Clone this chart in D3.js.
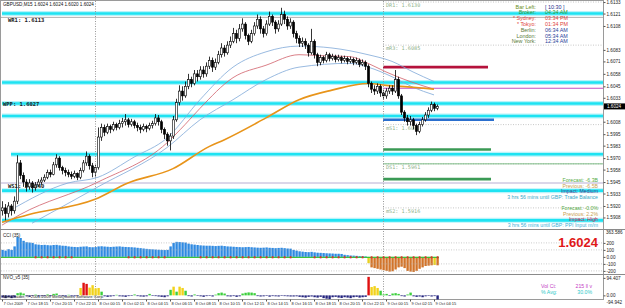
<!DOCTYPE html>
<html>
<head>
<meta charset="utf-8">
<script src="https://cdn.jsdelivr.net/npm/d3@7"></script>
<style>
	body{margin:0;background:#fff;}
	svg{display:block;font-family:"Liberation Sans",Arial,sans-serif;}
</style>
</head>
<body>
<svg id="chart" width="625" height="308"></svg>
<script>
'use strict';

// GBPUSD M15, first bar 7 Oct 2009 16:15
var timeLabels = ['7 Oct 2009','7 Oct 18:15','7 Oct 20:15','7 Oct 22:15','8 Oct 00:15','8 Oct 02:15','8 Oct 04:15','8 Oct 06:15','8 Oct 08:15','8 Oct 10:15','8 Oct 12:15','8 Oct 14:15','8 Oct 16:15','8 Oct 18:15','8 Oct 20:15','8 Oct 22:15','9 Oct 00:15','9 Oct 02:15','9 Oct 04:15'];
var priceTicks = [1.6133,1.6121,1.6108,1.6083,1.6071,1.6058,1.6045,1.6033,1.6008,1.5995,1.5983,1.5970,1.5958,1.5945,1.5933,1.5920,1.5908];
var daySeparators = [31, 127];

var closes = [
	1.5918,1.5912,1.5920,1.5915,1.5925,1.5965,1.5952,1.5945,1.5940,1.5944,
	1.5939,1.5942,1.5945,1.5947,1.5950,1.5955,1.5953,1.5963,1.5970,1.5960,
	1.5957,1.5955,1.5953,1.5951,1.5954,1.5950,1.5957,1.5965,1.5972,1.5962,
	1.5955,1.5960,1.5992,1.6002,1.5997,1.6003,1.6000,1.6005,1.6002,1.6006,
	1.6008,1.6010,1.6005,1.6008,1.6004,1.6002,1.6000,1.6003,1.6001,1.6004,
	1.6006,1.6012,1.6008,1.6000,1.5995,1.5988,1.5993,1.6010,1.6028,1.6040,
	1.6035,1.6045,1.6052,1.6048,1.6058,1.6055,1.6062,1.6058,1.6066,1.6072,
	1.6065,1.6070,1.6078,1.6085,1.6080,1.6088,1.6092,1.6100,1.6095,1.6105,
	1.6110,1.6098,1.6092,1.6100,1.6108,1.6115,1.6105,1.6100,1.6110,1.6118,
	1.6112,1.6105,1.6110,1.6120,1.6115,1.6108,1.6112,1.6100,1.6095,1.6090,
	1.6092,1.6088,1.6080,1.6092,1.6078,1.6070,1.6075,1.6072,1.6078,1.6074,
	1.6076,1.6073,1.6075,1.6072,1.6074,1.6071,1.6073,1.6070,1.6072,1.6068,
	1.6070,1.6066,1.6048,1.6042,1.6040,1.6045,1.6038,1.6035,1.6040,1.6043,
	1.6040,1.6052,1.6035,1.6018,1.6012,1.6008,1.6010,1.6004,1.5998,1.6005,
	1.6010,1.6015,1.6020,1.6026,1.6022,1.6024
];
var highs = [
	1.5925,1.5922,1.5924,1.5922,1.5930,1.5973,1.5968,1.5955,1.5948,1.5948,
	1.5946,1.5945,1.5948,1.5950,1.5953,1.5958,1.5958,1.5966,1.5974,1.5972,
	1.5962,1.5960,1.5958,1.5956,1.5957,1.5955,1.5960,1.5968,1.5977,1.5974,
	1.5965,1.5963,1.6002,1.6006,1.6005,1.6006,1.6005,1.6008,1.6007,1.6010,
	1.6012,1.6016,1.6012,1.6011,1.6010,1.6007,1.6005,1.6006,1.6005,1.6007,
	1.6009,1.6016,1.6015,1.6010,1.6002,1.5997,1.5996,1.6014,1.6032,1.6046,
	1.6045,1.6050,1.6058,1.6055,1.6062,1.6062,1.6066,1.6066,1.6070,1.6076,
	1.6075,1.6074,1.6082,1.6090,1.6088,1.6092,1.6097,1.6106,1.6104,1.6110,
	1.6116,1.6112,1.6100,1.6104,1.6112,1.6120,1.6118,1.6108,1.6114,1.6123,
	1.6120,1.6114,1.6114,1.6127,1.6124,1.6118,1.6116,1.6114,1.6103,1.6098,
	1.6096,1.6095,1.6090,1.6105,1.6094,1.6080,1.6078,1.6077,1.6081,1.6080,
	1.6079,1.6078,1.6078,1.6077,1.6077,1.6076,1.6076,1.6075,1.6075,1.6074,
	1.6073,1.6072,1.6068,1.6050,1.6046,1.6048,1.6047,1.6041,1.6043,1.6046,
	1.6046,1.6062,1.6055,1.6037,1.6020,1.6015,1.6014,1.6012,1.6006,1.6008,
	1.6013,1.6018,1.6023,1.6029,1.6028,1.6026
];
var lows = [
	1.5910,1.5905,1.5908,1.5910,1.5912,1.5922,1.5948,1.5940,1.5935,1.5937,
	1.5934,1.5936,1.5940,1.5942,1.5945,1.5948,1.5950,1.5952,1.5960,1.5957,
	1.5953,1.5951,1.5950,1.5948,1.5949,1.5947,1.5948,1.5955,1.5962,1.5958,
	1.5950,1.5950,1.5958,1.5988,1.5993,1.5995,1.5996,1.5998,1.5999,1.6000,
	1.6002,1.6004,1.6002,1.6003,1.6001,1.5998,1.5996,1.5998,1.5997,1.5999,
	1.6001,1.6004,1.6004,1.5996,1.5990,1.5983,1.5978,1.5990,1.6008,1.6025,
	1.6030,1.6033,1.6042,1.6044,1.6046,1.6050,1.6052,1.6054,1.6055,1.6063,
	1.6060,1.6062,1.6068,1.6075,1.6076,1.6078,1.6085,1.6090,1.6090,1.6092,
	1.6102,1.6094,1.6088,1.6090,1.6098,1.6105,1.6100,1.6096,1.6098,1.6108,
	1.6108,1.6100,1.6102,1.6108,1.6110,1.6104,1.6105,1.6096,1.6090,1.6086,
	1.6086,1.6084,1.6076,1.6078,1.6074,1.6066,1.6067,1.6069,1.6070,1.6071,
	1.6072,1.6070,1.6071,1.6069,1.6070,1.6068,1.6069,1.6067,1.6068,1.6065,
	1.6066,1.6062,1.6044,1.6038,1.6036,1.6037,1.6034,1.6031,1.6032,1.6037,
	1.6036,1.6038,1.6032,1.6015,1.6008,1.6004,1.6004,1.6000,1.5994,1.5996,
	1.6003,1.6008,1.6012,1.6018,1.6019,1.6020
];
var firstOpen = 1.5915;

// moving averages as [bar, price]
var maSlow = [[0,1.5903],[9,1.5911],[31,1.5927],[42,1.5944],[57,1.5959],[69,1.5982],[74,1.5989],[88,1.6012],[99,1.6031],[110,1.6041],[122,1.6048],[128,1.6046],[137,1.6044],[144,1.6042]];
var maMid = [[0,1.5900],[6,1.5911],[32,1.5945],[55,1.5986],[61,1.6005],[66,1.6022],[77,1.6054],[88,1.6067],[99,1.6078],[106,1.6077],[116,1.6076],[122,1.6069],[128,1.6060],[136,1.6050],[144,1.6042]];
var bandUpper = [[3,1.5916],[22,1.5944],[32,1.5950],[44,1.5971],[55,1.5991],[66,1.6031],[77,1.6065],[88,1.6081],[99,1.6087],[110,1.6085],[122,1.6078],[130,1.6071],[137,1.6060],[144,1.6050]];
var bandLower = [[10,1.5902],[32,1.5940],[55,1.5981],[66,1.6010],[77,1.6031],[88,1.6052],[99,1.6065],[116,1.6069],[122,1.6065],[130,1.6055],[137,1.6044],[144,1.6036]];

// horizontal levels
var cyanLevels = [[0,1.6121],[0,1.6049],[0,1.6027],[0,1.6014],[3,1.5974],[0,1.5936],[0,1.5905]];
var weeklyLevels = [{name:'WR1: 1.6113', price:1.6117, color:'#9a9a9a'}, {name:'WPP: 1.6027', price:1.6027, color:null}, {name:'WS1: 1.5940', price:1.5944, color:'#a59ac8'}];
var dailyLevels = [{name:'DR1: 1.6130', price:1.6133}, {name:'mR3: 1.6085', price:1.6088}, {name:'mS1: 1.6001', price:1.6005}, {name:'DS1: 1.5961', price:1.5964}, {name:'mS2: 1.5916', price:1.5918}];
var dppLevel = 1.6043;
var zones = [{price:1.6065, end:162, color:'#b5123c'}, {price:1.6010, end:164, color:'#2b6fce'}, {price:1.5979, end:163, color:'#3a9a55'}, {price:1.5948, end:163, color:'#3a9a55'}];

// CCI histogram
var cci = [
	100,90,110,100,150,285,270,230,210,205,200,
	180,175,170,172,168,165,170,172,165,160,158,
	150,145,142,140,145,148,150,140,138,
	140,150,152,148,145,142,145,148,150,145,142,140,138,135,
	130,125,120,115,110,108,105,102,100,98,100,
	150,200,215,212,208,205,
	190,180,175,170,165,162,160,160,158,155,158,160,155,150,148,145,
	142,140,138,140,142,138,135,132,130,132,135,130,128,125,128,130,125,120,118,
	100,90,80,75,70,68,72,65,60,
	58,55,52,50,48,45,45,42,
	30,25,20,18,15,12,10,
	8,
	-90,
	-150,-160,-170,-180,-190,-200,-210,-205,-180,-150,-140,-160,-200,-210,-215,-200,-170,-150,-130,-125,-120,-115,-120
];
var cciRedDots = [[11,24],[42,55],[66,96],[104,121],[123,145]];
var cciTicks = [200, 100, 0, -100, -200];

// NVO volume oscillator
var nvo = [
	-12,-15,-10,-15,-12,12,15,10,
	-5,-8,-3,4,-6,-5,-4,
	5,-4,8,10,-3,-5,-6,3,-4,-5,-3,
	40,68,62,42,55,38,40,20,
	-5,-8,-6,-4,3,-5,-6,-8,-4,-3,5,-4,-6,-7,-5,8,-3,-4,-6,-8,-10,-5,
	30,47,20,47,40,25,
	-4,-6,5,-3,-5,-8,-4,-3,-6,4,12,15,10,-5,-6,-4,-8,-5,10,14,16,15,12,-4,-6,-5,-3,-7,-4,-5,-6,-3,-4,-5,-6,
	-6,-5,-8,-10,-12,-8,-6,-10,-12,-8,-15,-18,-20,-10,-8,-12,-14,-10,-12,-15,-10,-8,-12,-10,
	-8,
	100,
	45,50,40,25,
	5,8,-3,10,12,8,-4,-6,5,15,-5,-8,-6,-10,-5,-3,-6,-4,-22
];
var nvoRange = [94.407, -94.942];

var clockRows = [
	['Bar Left:', '[ 10:30 ]', '#6b8e23', '#1e2f8a'],
	['Broker:', '04:34 AM', '#2e9a2e', '#2e9a2e'],
	['* Sydney:', '03:34 PM', '#e0443a', '#e0443a'],
	['* Tokyo:', '01:34 PM', '#e0443a', '#e0443a'],
	['Berlin:', '06:34 AM', '#5b7a3a', '#2a3f9a'],
	['London:', '05:34 AM', '#5b7a3a', '#2a3f9a'],
	['New York:', '12:34 AM', '#5b7a3a', '#2a3f9a']
];
var newsRows = [
	['Forecast: -6.3B', '#55aa44'],
	['Previous: -6.5B', '#c8a050'],
	['Impact: Medium', '#4a3a8a'],
	['3 hrs 56 mins until GBP: Trade Balance', '#3aa9c8'],
	['Forecast: -0.0%', '#55aa44'],
	['Previous: 2.2%', '#c8a050'],
	['Impact: High', '#c8204a'],
	['3 hrs 56 mins until GBP: PPI Input m/m', '#3ab0d8']
];

var svg = d3.select('#chart');
var plotRight = 603;

// scales
var x = d3.scaleLinear().domain([0, 200]).range([2, 602]);
var y = d3.scaleLinear().domain([1.5897, 1.6132]).range([228, 3]);
var yCci = d3.scaleLinear().domain([-230, 370]).range([273, 231]);
var yNvo = d3.scaleLinear().domain([-25, 110]).range([300, 275]);

var defs = svg.append('defs');
defs.append('clipPath').attr('id', 'clipMain').append('rect').attr('x', 1).attr('y', 1).attr('width', plotRight - 1).attr('height', 228);

// frame
svg.append('rect').attr('x', 0.5).attr('y', 0.5).attr('width', plotRight).attr('height', 299).attr('fill', 'none').attr('stroke', '#9a9a9a');
svg.append('line').attr('x1', 0).attr('x2', 625).attr('y1', 229.5).attr('y2', 229.5).attr('stroke', '#8a8a8a');
svg.append('line').attr('x1', 0).attr('x2', 625).attr('y1', 274.5).attr('y2', 274.5).attr('stroke', '#8a8a8a');

var main = svg.append('g').attr('clip-path', 'url(#clipMain)');

// day separators
daySeparators.forEach(function(d){
	svg.append('line').attr('x1', x(d) + 0.5).attr('x2', x(d) + 0.5).attr('y1', 1).attr('y2', 299)
		.attr('stroke', '#999').attr('stroke-dasharray', '1,1.5');
});

// cyan levels
cyanLevels.forEach(function(d){
	main.append('line').attr('x1', x(d[0])).attr('x2', plotRight).attr('y1', y(d[1])).attr('y2', y(d[1]))
		.attr('stroke', '#b8f3fa').attr('stroke-width', 5);
	main.append('line').attr('x1', x(d[0])).attr('x2', plotRight).attr('y1', y(d[1])).attr('y2', y(d[1]))
		.attr('stroke', '#1ee3f2').attr('stroke-width', 2.6);
});

// weekly pivot lines
weeklyLevels.forEach(function(d){
	if (d.color){
		main.append('line').attr('x1', 0).attr('x2', plotRight).attr('y1', y(d.price)).attr('y2', y(d.price))
			.attr('stroke', d.color).attr('stroke-width', 0.8);
	}
});

// daily pivot lines
dailyLevels.forEach(function(d){
	main.append('line').attr('x1', x(daySeparators[1])).attr('x2', plotRight).attr('y1', y(d.price)).attr('y2', y(d.price))
		.attr('stroke', '#b0b0b0').attr('stroke-width', 0.7).attr('stroke-dasharray', '1,1.5');
	main.append('text').attr('x', x(daySeparators[1]) + 3).attr('y', y(d.price) + 5)
		.attr('font-size', 5.2).attr('fill', '#8fb28a').attr('font-family', 'DejaVu Sans Mono, monospace').text(d.name);
});
main.append('line').attr('x1', x(daySeparators[1])).attr('x2', plotRight).attr('y1', y(1.5964)).attr('y2', y(1.5964))
	.attr('stroke', '#5fae6a').attr('stroke-width', 0.8);
main.append('line').attr('x1', x(daySeparators[1])).attr('x2', plotRight).attr('y1', y(dppLevel)).attr('y2', y(dppLevel))
	.attr('stroke', '#c24fc4').attr('stroke-width', 1.1);

// zones
zones.forEach(function(d){
	main.append('line').attr('x1', x(daySeparators[1])).attr('x2', x(d.end)).attr('y1', y(d.price)).attr('y2', y(d.price))
		.attr('stroke', d.color).attr('stroke-width', 2.6);
});

// moving averages
var line = d3.line().curve(d3.curveMonotoneX).x(function(d){ return x(d[0]); }).y(function(d){ return y(d[1]); });
main.append('path').attr('d', line(bandUpper)).attr('fill', 'none').attr('stroke', '#7fa8d8').attr('stroke-width', 0.8);
main.append('path').attr('d', line(bandLower)).attr('fill', 'none').attr('stroke', '#7fa8d8').attr('stroke-width', 0.8);
main.append('path').attr('d', line(maMid)).attr('fill', 'none').attr('stroke', '#d0606a').attr('stroke-width', 0.8);
main.append('path').attr('d', line(maSlow)).attr('fill', 'none').attr('stroke', '#e8941a').attr('stroke-width', 1.6);

// candles
var bars = closes.map(function(c, i){
	return {i: i, o: i ? closes[i - 1] : firstOpen, h: highs[i], l: lows[i], c: c};
});
var cg = main.append('g');
cg.selectAll('line.wick').data(bars).enter().append('line')
	.attr('x1', function(d){ return x(d.i) + 0.5; })
	.attr('x2', function(d){ return x(d.i) + 0.5; })
	.attr('y1', function(d){ return y(d.h); })
	.attr('y2', function(d){ return y(d.l); })
	.attr('stroke', '#000').attr('stroke-width', 0.8);
cg.selectAll('rect').data(bars).enter().append('rect')
	.attr('x', function(d){ return x(d.i) - 0.6; })
	.attr('width', 2.2)
	.attr('y', function(d){ return y(Math.max(d.o, d.c)); })
	.attr('height', function(d){ return Math.max(0.6, Math.abs(y(d.o) - y(d.c))); })
	.attr('fill', function(d){ return d.c >= d.o ? '#fff' : '#000'; })
	.attr('stroke', '#000').attr('stroke-width', 0.6);

// weekly labels
weeklyLevels.forEach(function(d, k){
	svg.append('text').attr('x', k === 1 ? 3 : 8).attr('y', y(d.price) + (k === 1 ? 2 : 5))
		.attr('font-size', 5.5).attr('font-weight', 'bold').attr('fill', '#222').attr('font-family', 'DejaVu Sans Mono, monospace').text(d.name);
});

// title
svg.append('text').attr('x', 3).attr('y', 6).attr('font-size', 4.6).attr('fill', '#111')
	.text('GBPUSD,M15  1.6024 1.6024 1.6020 1.6024');

// clocks
clockRows.forEach(function(r, k){
	var ty = 8.5 + k * 5.8;
	svg.append('text').attr('x', 536).attr('y', ty).attr('text-anchor', 'end').attr('font-size', 5.4).attr('fill', r[2]).text(r[0]);
	svg.append('text').attr('x', 545).attr('y', ty).attr('font-size', 5.4).attr('fill', r[3]).text(r[1]);
});

// news
newsRows.forEach(function(r, k){
	var ty = 182 + k * 5.6 + (k > 3 ? 5.5 : 0);
	svg.append('text').attr('x', 598).attr('y', ty).attr('text-anchor', 'end').attr('font-size', 5.2).attr('fill', r[1]).text(r[0]);
});

// price axis
var yAxis = d3.axisRight(y).tickValues(priceTicks).tickSize(2).tickFormat(d3.format('.4f'));
var ya = svg.append('g').attr('transform', 'translate(' + (plotRight + 0.5) + ',0)').call(yAxis);
ya.select('.domain').remove();
ya.selectAll('text').attr('font-size', 4.6).attr('fill', '#222').attr('x', 3);
ya.selectAll('line').attr('stroke', '#555');
// current price box
svg.append('rect').attr('x', plotRight + 1).attr('y', y(1.6024) - 3).attr('width', 21).attr('height', 6).attr('fill', '#000');
svg.append('text').attr('x', plotRight + 4).attr('y', y(1.6024) + 1.7).attr('font-size', 4.6).attr('fill', '#fff').text('1.6024');

// CCI panel
var cg2 = svg.append('g');
cg2.selectAll('rect').data(cci).enter().append('rect')
	.attr('x', function(d, i){ return x(i) - 0.6; })
	.attr('width', 2.4)
	.attr('y', function(d){ return d >= 0 ? yCci(d) : yCci(0); })
	.attr('height', function(d){ return Math.abs(yCci(d) - yCci(0)); })
	.attr('fill', function(d){ return d >= 0 ? '#2f8ae2' : (d > -120 ? '#e8d020' : '#d2742a'); });
[200, 100, -100, -200].forEach(function(v){
	svg.append('line').attr('x1', 1).attr('x2', plotRight).attr('y1', yCci(v)).attr('y2', yCci(v))
		.attr('stroke', '#aaa').attr('stroke-width', 0.6).attr('stroke-dasharray', '1,1.5');
});
svg.append('line').attr('x1', 1).attr('x2', x(cci.length - 1) + 2).attr('y1', yCci(0) + 0.5).attr('y2', yCci(0) + 0.5)
	.attr('stroke', '#3cc43c').attr('stroke-width', 1.2);
cciRedDots.forEach(function(r){
	for (var i = r[0]; i <= r[1]; i += 2){
		svg.append('rect').attr('x', x(i) - 0.3).attr('y', yCci(0) - 0.6).attr('width', 1.8).attr('height', 2).attr('fill', '#e02a2a');
	}
});
svg.append('text').attr('x', 3).attr('y', 237).attr('font-size', 4.6).attr('fill', '#222').text('CCI  (35)');
var cciAxis = d3.axisRight(yCci).tickValues(cciTicks).tickSize(2).tickFormat(function(d){ return d === 0 ? '0.00' : d; });
var ca = svg.append('g').attr('transform', 'translate(' + (plotRight + 0.5) + ',0)').call(cciAxis);
ca.select('.domain').remove();
ca.selectAll('text').attr('font-size', 4.6).attr('fill', '#222').attr('x', 3);
ca.selectAll('line').attr('stroke', '#555');
svg.append('text').attr('x', 606).attr('y', 234).attr('font-size', 4.6).attr('fill', '#222').text('363.586');
svg.append('text').attr('x', 598).attr('y', 247).attr('text-anchor', 'end').attr('font-size', 13).attr('font-weight', 'bold')
	.attr('fill', '#e01818').text('1.6024');

// NVO panel
var ng = svg.append('g');
ng.selectAll('rect').data(nvo).enter().append('rect')
	.attr('x', function(d, i){ return x(i) - 0.6; })
	.attr('width', 2.4)
	.attr('y', function(d){ return d >= 0 ? yNvo(d) : yNvo(0); })
	.attr('height', function(d){ return Math.abs(yNvo(d) - yNvo(0)); })
	.attr('fill', function(d){ return d < 0 ? '#23237e' : d > 55 ? '#e01010' : d > 35 ? '#f2d21a' : '#3ccf3c'; });
svg.append('text').attr('x', 3).attr('y', 279).attr('font-size', 4.6).attr('fill', '#222').text('NVO_v5 [35]');
svg.append('text').attr('x', 3).attr('y', 298).attr('font-size', 4.2).attr('fill', '#222').text('MetaTrader, \u00a9 2001-2009 MetaQuotes Software Corp.');
var nvoAxis = d3.axisRight(yNvo).tickValues([nvoRange[0], 0]).tickSize(2).tickFormat(function(d){ return d === 0 ? '0.00' : d; });
var na = svg.append('g').attr('transform', 'translate(' + (plotRight + 0.5) + ',0)').call(nvoAxis);
na.select('.domain').remove();
na.selectAll('text').attr('font-size', 4.6).attr('fill', '#222').attr('x', 3);
na.selectAll('line').attr('stroke', '#555');
// panel minimum, printed at the panel's lower edge as MT4 does
svg.append('text').attr('x', plotRight + 3.5).attr('y', 303.6).attr('font-size', 4.6).attr('fill', '#222').text(nvoRange[1]);
svg.append('text').attr('x', 541).attr('y', 288).attr('font-size', 5.2).attr('fill', '#c43cc4').text('Vol Ct:');
svg.append('text').attr('x', 592).attr('y', 288).attr('text-anchor', 'end').attr('font-size', 5.2).attr('fill', '#c43cc4').text('215 ll v');
svg.append('text').attr('x', 541).attr('y', 294).attr('font-size', 5.2).attr('fill', '#2ec8c8').text('% Avg:');
svg.append('text').attr('x', 592).attr('y', 294).attr('text-anchor', 'end').attr('font-size', 5.2).attr('fill', '#2ec8c8').text('30.0%');

// time axis
var xAxis = d3.axisBottom(x).tickValues(timeLabels.map(function(d, k){ return k * 8; })).tickSize(2)
	.tickFormat(function(d, k){ return timeLabels[k]; });
var xa = svg.append('g').attr('transform', 'translate(0,299.5)').call(xAxis);
xa.select('.domain').remove();
xa.selectAll('line').attr('stroke', '#555');
xa.selectAll('text').attr('font-size', 4).attr('fill', '#222').attr('text-anchor', 'start').attr('dx', 1).attr('y', 2.2);
</script>
</body>
</html>
